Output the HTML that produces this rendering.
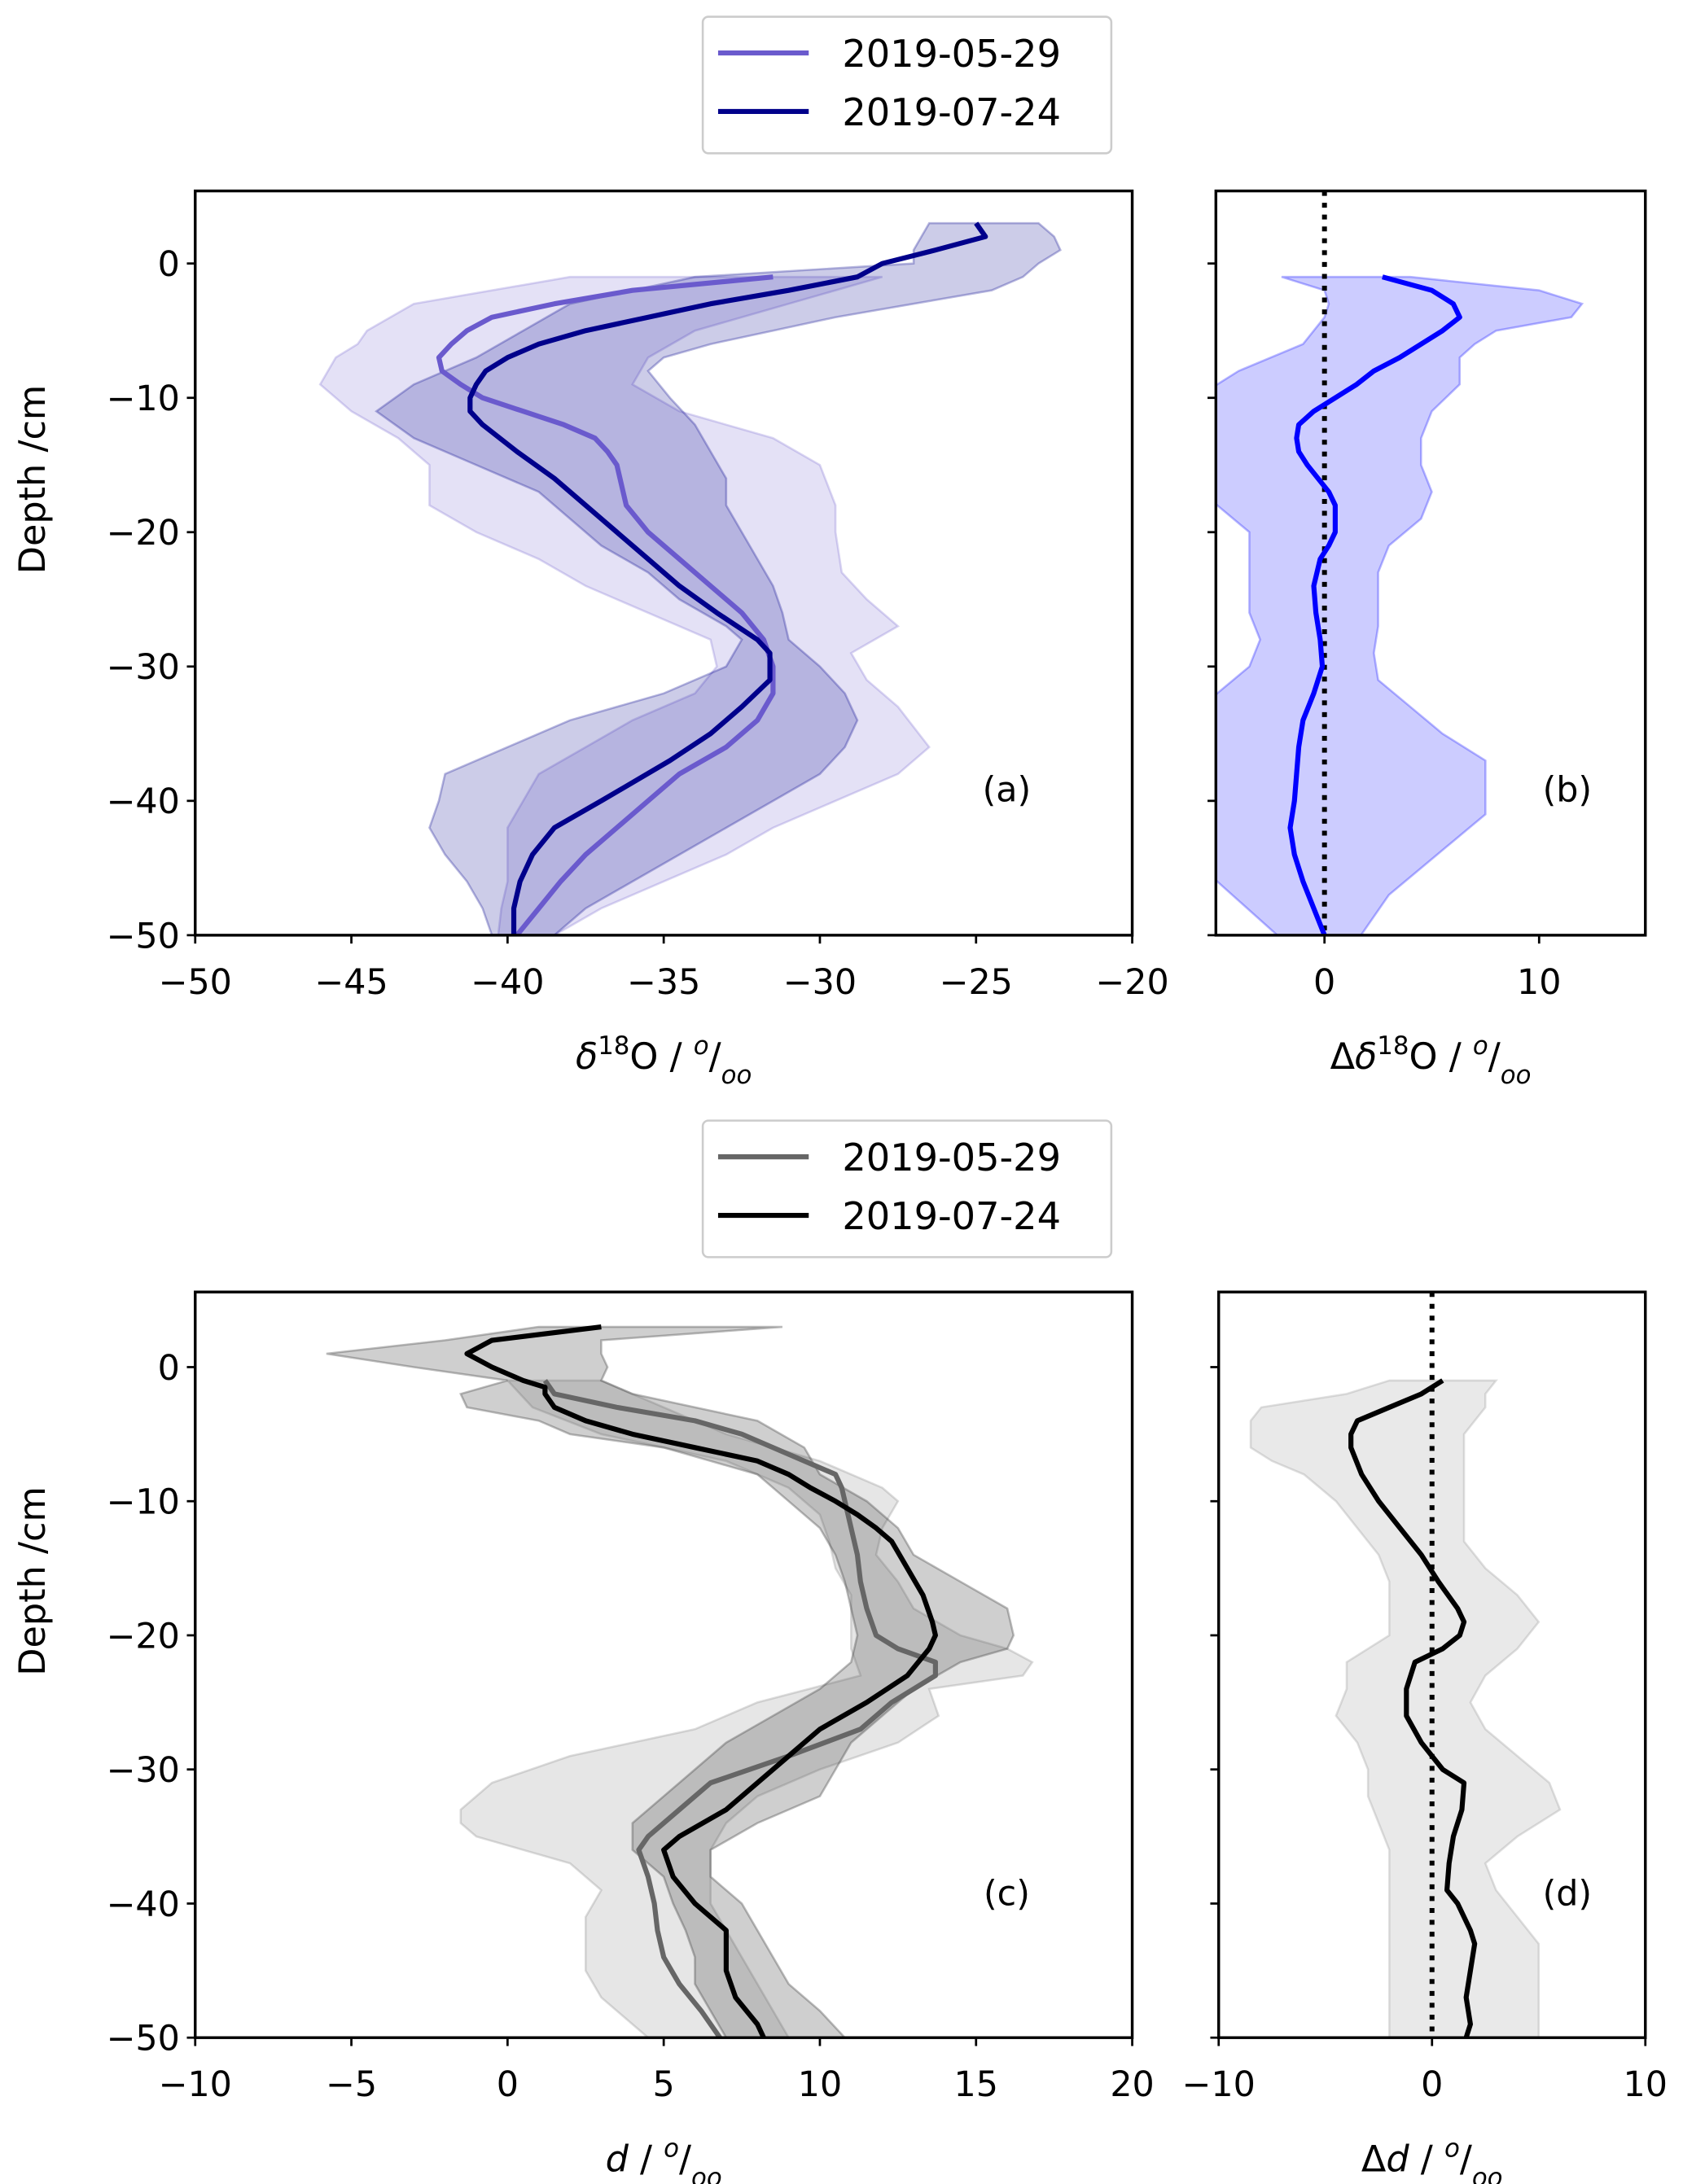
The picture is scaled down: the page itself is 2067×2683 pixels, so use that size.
<!DOCTYPE html>
<html><head><meta charset="utf-8"><style>
html,body{margin:0;padding:0;background:#fff;}
svg{display:block;}
text{font-family:"DejaVu Sans","Liberation Sans",sans-serif;fill:#000;}
</style></head><body>
<svg id="fig" width="2067" height="2683" viewBox="0 0 1207 1567" preserveAspectRatio="none" xmlns="http://www.w3.org/2000/svg"></svg>
<script>
// ---- Panel (a) data: [depth cm, delta18O]
const aLine0529 = [[-1,-31.5],[-2,-36],[-3,-38.5],[-4,-40.5],[-5,-41.3],[-6,-41.8],[-7,-42.2],[-8,-42.1],[-9,-41.5],[-10,-40.8],[-11,-39.5],[-12,-38.2],[-13,-37.2],[-14,-36.8],[-15,-36.5],[-16,-36.4],[-18,-36.2],[-20,-35.5],[-22,-34.5],[-24,-33.5],[-26,-32.5],[-28,-31.8],[-30,-31.5],[-32,-31.5],[-34,-32],[-36,-33],[-38,-34.5],[-40,-35.5],[-42,-36.5],[-44,-37.5],[-46,-38.3],[-48,-39],[-50,-39.7]];
const aBandLo0529 = [[-1,-38],[-3,-43],[-5,-44.5],[-6,-44.8],[-7,-45.5],[-9,-46],[-11,-45],[-13,-43.5],[-15,-42.5],[-18,-42.5],[-20,-41],[-22,-39],[-24,-37.5],[-26,-35.5],[-28,-33.5],[-30,-33.3],[-32,-34],[-34,-36],[-36,-37.5],[-38,-39],[-40,-39.5],[-42,-40],[-44,-40],[-46,-40],[-48,-40.2],[-50,-40.3]];
const aBandHi0529 = [[-1,-28],[-3,-31],[-5,-34],[-7,-35.5],[-9,-36],[-11,-34.5],[-13,-31.5],[-15,-30],[-18,-29.5],[-20,-29.5],[-23,-29.3],[-25,-28.5],[-27,-27.5],[-29,-29],[-31,-28.5],[-33,-27.5],[-36,-26.5],[-38,-27.5],[-40,-29.5],[-42,-31.5],[-44,-33],[-46,-35],[-48,-37],[-50,-38.5]];
const aLine0724 = [[3,-25],[2,-24.7],[1,-26.3],[0,-28],[-1,-28.8],[-2,-31],[-3,-33.5],[-4,-35.5],[-5,-37.5],[-6,-39],[-7,-40],[-8,-40.7],[-9,-41],[-10,-41.2],[-11,-41.2],[-12,-40.8],[-14,-39.7],[-16,-38.5],[-18,-37.5],[-20,-36.5],[-22,-35.5],[-24,-34.5],[-26,-33.3],[-28,-32],[-29,-31.6],[-31,-31.6],[-33,-32.5],[-35,-33.5],[-37,-34.8],[-40,-37],[-42,-38.5],[-44,-39.2],[-46,-39.6],[-48,-39.8],[-50,-39.8]];
const aBandLo0724 = [[3,-26.5],[1,-27],[0,-27],[-1,-34],[-2,-36],[-3,-38],[-5,-39.5],[-7,-41],[-9,-43],[-11,-44.2],[-13,-43],[-15,-41],[-17,-39],[-19,-38],[-21,-37],[-23,-35.5],[-25,-34.5],[-27,-33],[-28,-32.5],[-30,-33],[-32,-35],[-34,-38],[-36,-40],[-38,-42],[-40,-42.2],[-42,-42.5],[-44,-42],[-46,-41.3],[-48,-40.8],[-50,-40.5]];
const aBandHi0724 = [[3,-23],[2,-22.5],[1,-22.3],[0,-23],[-1,-23.5],[-2,-24.5],[-3,-27],[-4,-29.5],[-5,-31.5],[-6,-33.5],[-7,-35],[-8,-35.5],[-10,-34.8],[-12,-34],[-14,-33.5],[-16,-33],[-18,-33],[-20,-32.5],[-22,-32],[-24,-31.5],[-26,-31.2],[-28,-31],[-30,-30],[-32,-29.2],[-34,-28.8],[-36,-29.2],[-38,-30],[-40,-31.5],[-42,-33],[-44,-34.5],[-46,-36],[-48,-37.5],[-50,-38.5]];
// ---- Panel (b)
const bLine = [[-1,2.7],[-2,5],[-3,6],[-4,6.3],[-5,5.5],[-6,4.5],[-7,3.5],[-8,2.3],[-9,1.5],[-10,0.5],[-11,-0.5],[-12,-1.2],[-13,-1.3],[-14,-1.2],[-15,-0.8],[-16,-0.3],[-17,0.2],[-18,0.5],[-20,0.5],[-21,0.2],[-22,-0.2],[-24,-0.5],[-26,-0.4],[-28,-0.2],[-30,-0.1],[-32,-0.5],[-34,-1],[-36,-1.2],[-38,-1.3],[-40,-1.4],[-42,-1.6],[-44,-1.4],[-46,-1],[-48,-0.5],[-50,0]];
const bBandLo = [[-1,-2],[-2,0],[-3,0.2],[-4,0],[-5,-0.5],[-6,-1],[-7,-2.5],[-8,-4],[-9,-5],[-10,-5.5],[-12,-6],[-16,-6],[-18,-5],[-20,-3.5],[-22,-3.5],[-24,-3.5],[-26,-3.5],[-28,-3],[-30,-3.5],[-32,-5],[-34,-6],[-44,-6],[-46,-5],[-50,-2.2]];
const bBandHi = [[-1,4],[-2,10],[-3,12],[-4,11.5],[-5,8],[-6,7],[-7,6.3],[-9,6.3],[-11,5],[-13,4.5],[-15,4.5],[-17,5],[-19,4.5],[-21,3],[-23,2.5],[-25,2.5],[-27,2.5],[-29,2.3],[-31,2.5],[-33,4],[-35,5.5],[-37,7.5],[-39,7.5],[-41,7.5],[-43,6],[-45,4.5],[-47,3],[-50,1.7]];
// ---- Panel (c)
const cLine0529 = [[-1,1.2],[-2,1.5],[-3,3.5],[-4,6],[-5,7.5],[-6,8.5],[-7,9.5],[-8,10.5],[-9,10.7],[-10,10.8],[-12,11],[-14,11.2],[-16,11.3],[-18,11.5],[-20,11.8],[-21,12.5],[-22,13.7],[-23,13.7],[-25,12.3],[-27,11.3],[-29,9],[-31,6.5],[-33,5.5],[-35,4.5],[-36,4.2],[-38,4.5],[-40,4.7],[-42,4.8],[-44,5],[-46,5.5],[-48,6.2],[-50,6.8]];
const cBandLo0529 = [[-1,0],[-3,0.8],[-5,3],[-7,7],[-9,9],[-11,10],[-13,10.3],[-15,10.5],[-17,11],[-19,11],[-21,11],[-23,11.3],[-25,8],[-27,6],[-29,2],[-31,-0.5],[-33,-1.5],[-34,-1.5],[-35,-1],[-37,2],[-39,3],[-41,2.5],[-43,2.5],[-45,2.5],[-47,3],[-49,4],[-50,4.5]];
const cBandHi0529 = [[-1,3],[-3,5],[-5,7],[-7,10],[-9,12],[-10,12.5],[-12,12],[-14,11.8],[-16,12.5],[-18,13],[-20,14.5],[-21,16],[-22,16.8],[-23,16.5],[-24,13.5],[-26,13.8],[-28,12.5],[-30,10],[-32,8],[-34,7],[-36,6.5],[-38,6.5],[-40,6.5],[-42,7],[-44,7.5],[-46,8],[-48,8.5],[-50,9]];
const cLine0724 = [[3,3],[2,-0.5],[1,-1.3],[0,-0.5],[-1,0.5],[-1.5,1.2],[-2,1.2],[-3,1.5],[-4,2.5],[-5,4],[-6,6],[-7,8],[-8,9],[-9,9.7],[-10,10.5],[-11,11.2],[-12,11.8],[-13,12.3],[-15,12.8],[-17,13.3],[-19,13.6],[-20,13.7],[-21,13.5],[-23,12.8],[-25,11.5],[-27,10],[-29,9],[-31,8],[-33,7],[-35,5.5],[-36,5],[-38,5.3],[-40,6],[-42,7],[-43,7],[-45,7],[-47,7.3],[-49,8],[-50,8.2]];
const cBandLo0724 = [[3,1],[2,-2],[1,-5.8],[0,-3],[-1,0],[-2,-1.5],[-3,-1.3],[-4,1],[-5,2],[-6,5],[-7,6.5],[-8,8],[-10,9],[-12,10],[-14,10.5],[-16,10.8],[-18,11],[-20,11.2],[-22,11],[-24,10],[-26,8.5],[-28,7],[-30,6],[-32,5],[-34,4],[-36,4],[-38,5],[-40,5.3],[-42,5.7],[-44,6],[-46,6],[-48,6.5],[-50,7]];
const cBandHi0724 = [[3,8.8],[2,3],[1,3],[0,3.2],[-1,3],[-2,4],[-3,6],[-4,8],[-6,9.5],[-8,10],[-10,11.5],[-12,12.5],[-14,13],[-16,14.5],[-18,16],[-20,16.2],[-21,16],[-22,14.5],[-24,13],[-26,12],[-28,11],[-30,10.5],[-32,10],[-34,8],[-36,6.5],[-38,6.5],[-40,7.5],[-42,8],[-44,8.5],[-46,9],[-48,10],[-50,10.8]];
// ---- Panel (d)
const dLine = [[-1,0.5],[-2,-0.5],[-3,-2],[-4,-3.5],[-5,-3.8],[-6,-3.8],[-8,-3.3],[-10,-2.5],[-12,-1.5],[-14,-0.5],[-16,0.3],[-18,1.2],[-19,1.5],[-20,1.3],[-21,0.5],[-22,-0.8],[-24,-1.2],[-26,-1.2],[-28,-0.5],[-30,0.5],[-31,1.5],[-33,1.4],[-35,1],[-37,0.8],[-39,0.7],[-40,1.2],[-42,1.8],[-43,2],[-45,1.8],[-47,1.6],[-49,1.8],[-50,1.6]];
const dBandLo = [[-1,-2],[-2,-4],[-3,-8],[-4,-8.5],[-6,-8.5],[-7,-7.5],[-8,-6],[-10,-4.5],[-12,-3.5],[-14,-2.5],[-16,-2],[-20,-2],[-22,-4],[-24,-4],[-26,-4.5],[-28,-3.5],[-30,-3],[-32,-3],[-34,-2.5],[-36,-2],[-50,-2]];
const dBandHi = [[-1,3],[-2,2.5],[-3,2.5],[-5,1.5],[-13,1.5],[-15,2.5],[-17,4],[-19,5],[-21,4],[-23,2.5],[-25,1.8],[-27,2.5],[-29,4],[-31,5.5],[-33,6],[-35,4],[-37,2.5],[-39,3],[-41,4],[-43,5],[-47,5],[-50,5]];
// ticks
const yTicks = [0,-10,-20,-30,-40,-50];
const aXTicks = [-50,-45,-40,-35,-30,-25,-20];
const bXTicks = [0,10];
const cXTicks = [-10,-5,0,5,10,15,20];
const dXTicks = [-10,0,10];
const legendLabels = ["2019-05-29","2019-07-24"];

const NS="http://www.w3.org/2000/svg";
const svg=document.getElementById('fig');
function mk(tag,attrs,parent){const e=document.createElementNS(NS,tag);for(const k in attrs)e.setAttribute(k,attrs[k]);(parent||svg).appendChild(e);return e;}

function panel(o){
  const g=mk('g',{});
  
  
  const sx=v=>o.L+(v-o.x0)/(o.x1-o.x0)*(o.R-o.L);
  const sy=d=>o.T+(o.y1-d)/(o.y1-o.y0)*(o.B-o.T);
  const cid='clip-'+o.name;
  const cp=mk('clipPath',{id:cid},g);mk('rect',{x:o.L,y:o.T,width:o.R-o.L,height:o.B-o.T},cp);
  const pg=mk('g',{'clip-path':'url(#'+cid+')'},g);
  o.bands.forEach(b=>{
    const pts=b.lo.map(p=>sx(p[1])+','+sy(p[0])).concat(b.hi.slice().reverse().map(p=>sx(p[1])+','+sy(p[0])));
    const p=mk('polygon',{points:pts.join(' '),fill:b.fill,'fill-opacity':b.op,stroke:b.fill,'stroke-opacity':b.op*1.4,'stroke-width':1.5},pg);
    
    
  });
  if(o.zero!==undefined){
    const z=mk('line',{x1:sx(o.zero),x2:sx(o.zero),y1:o.T,y2:o.B,stroke:'#000','stroke-width':3.5,'stroke-dasharray':'3.5,5'},pg);
    
    
  }
  o.lines.forEach(l=>{
    const p=mk('polyline',{points:l.d.map(p=>sx(p[1])+','+sy(p[0])).join(' '),fill:'none',stroke:l.c,'stroke-width':3.6,'stroke-linejoin':'round'},pg);
    
    
  });
  const fr=mk('rect',{x:o.L,y:o.T,width:o.R-o.L,height:o.B-o.T,fill:'none',stroke:'#000','stroke-width':2},g);
  
  
  yTicks.forEach(t=>{
    mk('line',{x1:o.L-6,x2:o.L,y1:sy(t),y2:sy(t),stroke:'#000','stroke-width':1.6},g);
    if(o.ylabels){const tx=mk('text',{x:o.L-11,y:sy(t)+9,'text-anchor':'end','font-size':25},g);tx.textContent=t<0?'\u2212'+(-t):t;
      
      }
  });
  o.xticks.forEach(t=>{
    mk('line',{x1:sx(t),x2:sx(t),y1:o.B,y2:o.B+6,stroke:'#000','stroke-width':1.6},g);
    const tx=mk('text',{x:sx(t),y:o.B+42,'text-anchor':'middle','font-size':25},g);tx.textContent=t<0?'\u2212'+(-t):t;
    
    
  });
  const lb=mk('text',{x:o.lx,y:o.ly,'text-anchor':'middle','font-size':25},g);lb.textContent=o.letter;
  
  
  const xl=mk('text',{x:(o.L+o.R)/2,y:o.B+96,'text-anchor':'middle','font-size':26},g);xl.innerHTML=o.xlabel;
  
  
  if(o.ylabels){
    const yl=mk('text',{x:0,y:0,'text-anchor':'middle','font-size':26,transform:'translate(32,'+((o.T+o.B)/2-60)+') rotate(-90)'},g);yl.textContent='Depth /cm';
    
    
  }
}
function legend(y,c1,c2,name){
  const g=mk('g',{});
  
  
  mk('rect',{x:504,y:y,width:293,height:98,rx:4,fill:'#fff',stroke:'#ccc','stroke-width':1.5},g);
  [c1,c2].forEach((c,i)=>{
    const yy=y+26+i*42;
    mk('line',{x1:515,x2:580,y1:yy,y2:yy,stroke:c,'stroke-width':3.6},g);
    const t=mk('text',{x:604,y:yy+10,'font-size':27},g);t.textContent=legendLabels[i];
    
    
  });
}
const permil='/ <tspan font-style="italic" baseline-shift="super" font-size="18">o</tspan>/<tspan font-style="italic" baseline-shift="sub" font-size="18">oo</tspan>';
const c05='#6a5acd', c07='#00008b';
panel({name:'panel-a',L:140,R:812,T:137,B:671,x0:-50,x1:-20,y0:-50,y1:5.4,ylabels:true,xticks:aXTicks,letter:'(a)',lx:722,ly:575,
  xlabel:'<tspan font-style="italic">δ</tspan><tspan baseline-shift="super" font-size="18">18</tspan>O '+permil,
  bands:[{lo:aBandLo0529,hi:aBandHi0529,fill:c05,op:0.18,name:'band-0529'},{lo:aBandLo0724,hi:aBandHi0724,fill:c07,op:0.2,name:'band-0724'}],
  lines:[{d:aLine0529,c:c05,name:'line-0529'},{d:aLine0724,c:c07,name:'line-0724'}]});
panel({name:'panel-b',L:872,R:1180,T:137,B:671,x0:-5.06,x1:14.95,y0:-50,y1:5.4,ylabels:false,xticks:bXTicks,letter:'(b)',lx:1124,ly:575,zero:0,
  xlabel:'Δ<tspan font-style="italic">δ</tspan><tspan baseline-shift="super" font-size="18">18</tspan>O '+permil,
  bands:[{lo:bBandLo,hi:bBandHi,fill:'#0000ff',op:0.2,name:'band-diff'}],
  lines:[{d:bLine,c:'#0000ff',name:'line-diff'}]});
panel({name:'panel-c',L:140,R:812,T:927,B:1462,x0:-10,x1:20,y0:-50,y1:5.6,ylabels:true,xticks:cXTicks,letter:'(c)',lx:722,ly:1367,
  xlabel:'<tspan font-style="italic">d</tspan>  '+permil,
  bands:[{lo:cBandLo0529,hi:cBandHi0529,fill:'#808080',op:0.2,name:'band-0529'},{lo:cBandLo0724,hi:cBandHi0724,fill:'#404040',op:0.25,name:'band-0724'}],
  lines:[{d:cLine0529,c:'#666666',name:'line-0529'},{d:cLine0724,c:'#000000',name:'line-0724'}]});
panel({name:'panel-d',L:874,R:1180,T:927,B:1462,x0:-10,x1:10,y0:-50,y1:5.6,ylabels:false,xticks:dXTicks,letter:'(d)',lx:1124,ly:1367,zero:0,
  xlabel:'Δ<tspan font-style="italic">d</tspan> '+permil,
  bands:[{lo:dBandLo,hi:dBandHi,fill:'#999999',op:0.22,name:'band-diff'}],
  lines:[{d:dLine,c:'#000000',name:'line-diff'}]});
legend(12,c05,c07,'legend-top');
legend(804,'#666666','#000000','legend-bottom');
</script>
</body></html>
